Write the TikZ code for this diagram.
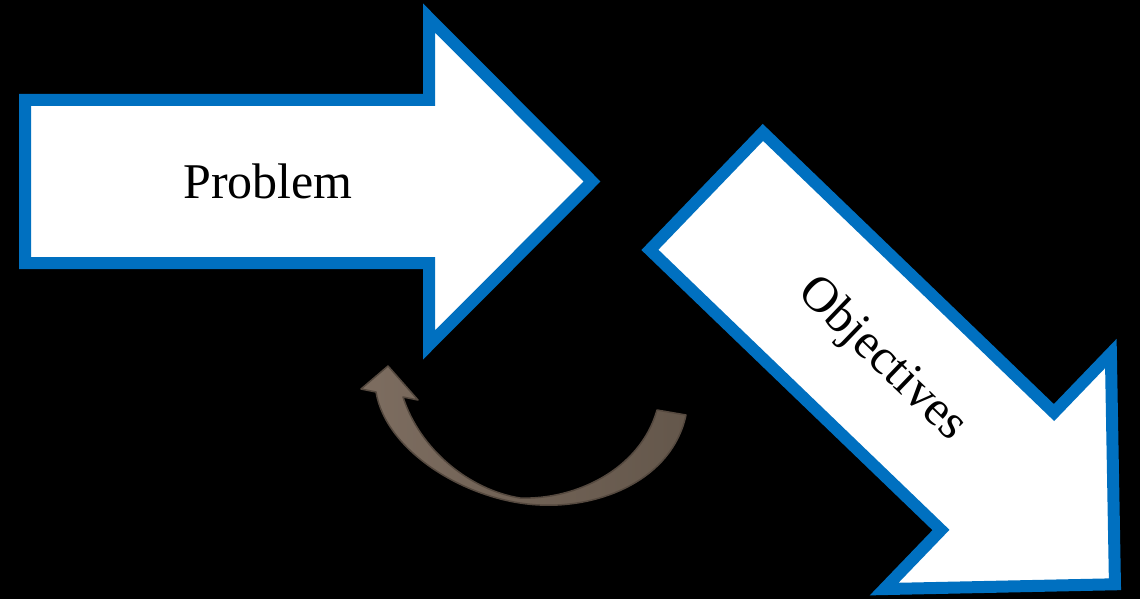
\documentclass[tikz,border=0pt]{standalone}
\usepackage{fontspec}
\setmainfont{Liberation Serif}
\definecolor{arrowblue}{HTML}{0070C0}
\definecolor{loopbrownL}{HTML}{7D6D60}
\definecolor{loopbrownR}{HTML}{64574B}
\definecolor{loopedge}{HTML}{55493F}
\tikzset{
  blockarrow/.style={draw=arrowblue, fill=white, line width=12pt, line join=miter},
  arrowlabel/.style={font=\fontsize{50}{60}\selectfont, text=black, inner sep=0pt},
  looparrow/.style={left color=loopbrownL, right color=loopbrownR, draw=loopedge, line width=1.5pt, line join=round}
}
% block arrow outline, centred on the origin, pointing along +x
\newcommand{\blockarrowpath}{(-285,-81.5) -- (119,-81.5) -- (119,-163.5) -- (282,0) -- (119,163.5) -- (119,81.5) -- (-285,81.5) -- cycle}
\begin{document}
\begin{tikzpicture}[x=1pt, y=-1pt]
  \fill[black] (0,0) rectangle (1140,599);
  \useasboundingbox (0,0) rectangle (1140,599);

  % first arrow
  \begin{scope}[shift={(310,181.5)}]
    \draw[blockarrow] \blockarrowpath;
    \node[arrowlabel] (problem) at (-42,0) {Problem};
  \end{scope}

  % second arrow, turned down to the right
  \begin{scope}[shift={(911.75,388.75)}, rotate=-43.9]
    \draw[blockarrow] \blockarrowpath;
    \node[arrowlabel, transform shape] (objectives) at (-42,0) {Objectives};
  \end{scope}

  % curved return arrow
  \draw[looparrow] (388,366) -- (418,400) -- (403,397)
    .. controls (420,450) and (470,490) .. (520,498)
    .. controls (575,500) and (640,470) .. (657,410)
    -- (686,415)
    .. controls (672,480) and (600,508) .. (540,505)
    .. controls (468,502) and (386,452) .. (376,392)
    -- (361,389) -- cycle;
\end{tikzpicture}
\end{document}
